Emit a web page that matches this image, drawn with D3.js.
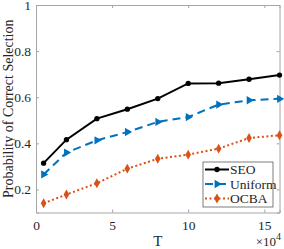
<!DOCTYPE html>
<html>
<head>
<meta charset="utf-8">
<script src="https://cdn.jsdelivr.net/npm/d3@7"></script>
<style>
  body { margin: 0; background: #fff; }
</style>
</head>
<body>
<svg width="284" height="249"></svg>
<script>
// T values (x 10^4)
var T = [0.5, 2, 4, 6, 8, 10, 12, 14, 16];
var seo = [0.314, 0.416, 0.507, 0.548, 0.594, 0.66, 0.661, 0.678, 0.696];
var uniform = [0.265, 0.36, 0.413, 0.449, 0.493, 0.514, 0.568, 0.587, 0.593];
var ocba = [0.14, 0.178, 0.227, 0.29, 0.333, 0.351, 0.377, 0.423, 0.435];
var xTicks = [0, 5, 10, 15];
var yTicks = [0.2, 0.4, 0.6, 0.8, 1];
var seriesNames = ["SEO", "Uniform", "OCBA"];

var serif = "'Liberation Serif', 'Times New Roman', serif";

var svg = d3.select("svg"),
    margin = {top: 5, right: 4.5, bottom: 36.5, left: 36},
    width = svg.attr("width") - margin.left - margin.right,
    height = svg.attr("height") - margin.top - margin.bottom,
    g = svg.append("g").attr("transform", "translate(" + margin.left + "," + margin.top + ")");

var x = d3.scaleLinear().domain([0, 16]).range([0, width]),
    y = d3.scaleLinear().domain([0.1, 1]).range([height, 0]);

var axisColor = "#a6a6a6";

// ticks inward, box on all sides
g.append("g")
    .attr("transform", "translate(0," + height + ")")
    .call(d3.axisBottom(x).tickValues(xTicks).tickSize(-3).tickPadding(8).tickFormat(d3.format("d")));
g.append("g")
    .call(d3.axisTop(x).tickValues(xTicks).tickSize(-3).tickFormat(""));
g.append("g")
    .call(d3.axisLeft(y).tickValues(yTicks).tickSize(-3).tickPadding(5).tickFormat(function(d) { return d === 1 ? "1" : d3.format(".1f")(d); }));
g.append("g")
    .attr("transform", "translate(" + width + ",0)")
    .call(d3.axisRight(y).tickValues(yTicks).tickSize(-3).tickFormat(""));

g.selectAll(".domain").attr("stroke", axisColor);
g.selectAll(".tick line").attr("stroke", axisColor);
g.selectAll(".tick text")
    .attr("font-family", serif)
    .attr("font-size", 13.5)
    .attr("fill", "#262626");

var series = [
  {name: seriesNames[0], values: seo, color: "#000000", dash: null, marker: d3.symbolCircle, size: 22, rot: 0},
  {name: seriesNames[1], values: uniform, color: "#0072BD", dash: "8,5", marker: d3.symbolTriangle, size: 30, rot: 90},
  {name: seriesNames[2], values: ocba, color: "#D95319", dash: "2,2.5", marker: d3.symbolDiamond, size: 28, rot: 0}
];

var line = d3.line()
    .x(function(d, i) { return x(T[i]); })
    .y(function(d) { return y(d); });

series.forEach(function(s) {
  g.append("path")
      .attr("d", line(s.values))
      .attr("fill", "none")
      .attr("stroke", s.color)
      .attr("stroke-width", 2)
      .attr("stroke-dasharray", s.dash);
  g.selectAll(null)
      .data(s.values)
      .enter().append("path")
      .attr("d", d3.symbol().type(s.marker).size(s.size))
      .attr("transform", function(d, i) { return "translate(" + x(T[i]) + "," + y(d) + ") rotate(" + s.rot + ")"; })
      .attr("fill", s.color);
});

// legend
var lg = svg.append("g").attr("transform", "translate(203,162)");
lg.append("rect")
    .attr("width", 70).attr("height", 45)
    .attr("fill", "#fff").attr("stroke", "#262626").attr("stroke-width", 0.6);
series.forEach(function(s, i) {
  var yy = 7.5 + i * 14.5;
  lg.append("line")
      .attr("x1", 2).attr("x2", 26).attr("y1", yy).attr("y2", yy)
      .attr("stroke", s.color).attr("stroke-width", 2)
      .attr("stroke-dasharray", s.dash);
  lg.append("path")
      .attr("d", d3.symbol().type(s.marker).size(s.size))
      .attr("transform", "translate(14," + yy + ") rotate(" + s.rot + ")")
      .attr("fill", s.color);
  lg.append("text")
      .attr("x", 27).attr("y", yy + 4.5)
      .attr("font-family", serif)
      .attr("font-size", 13.5)
      .attr("fill", "#262626")
      .text(s.name);
});

// axis labels
svg.append("text")
    .attr("x", margin.left + x(8)).attr("y", 246)
    .attr("text-anchor", "middle")
    .attr("font-family", serif)
    .attr("font-size", 15)
    .attr("fill", "#262626")
    .text("T");

var mult = svg.append("text")
    .attr("x", 281).attr("y", 246)
    .attr("text-anchor", "end")
    .attr("font-family", serif)
    .attr("font-size", 13)
    .attr("fill", "#262626");
mult.append("tspan").text("\u00d710");
mult.append("tspan").attr("dy", -6).attr("font-size", 10).text("4");

svg.append("text")
    .attr("transform", "translate(13," + (margin.top + height / 2) + ") rotate(-90)")
    .attr("text-anchor", "middle")
    .attr("font-family", serif)
    .attr("font-size", 14)
    .attr("fill", "#262626")
    .text("Probability of Correct Selection");
</script>
</body>
</html>
